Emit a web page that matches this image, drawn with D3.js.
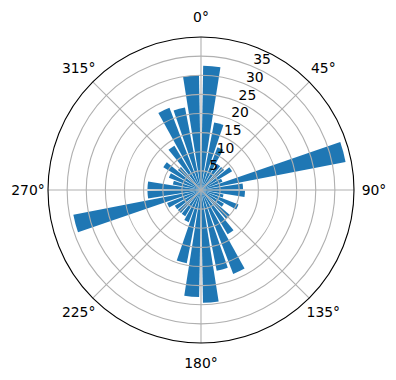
<!DOCTYPE html>
<head>
  <meta charset="utf-8">
  <script src="https://d3js.org/d3.v7.min.js"></script>
  <style>
    body { margin:0; background:#fff; }
    text { font-family: "DejaVu Sans", sans-serif; font-size: 13.9px; fill: #000; }
  </style>
</head>
<body>
  <svg id="chart" width="396" height="380"></svg>
  <script>
    // bar centres (degrees, clockwise from north) and lengths
    var angles = d3.range(5, 360, 10);
    var values = [32.5, 18, 12, 8, 8, 9.5, 6, 38.5, 11,
                  11.5, 6, 10.5, 7, 10, 13.5, 23.5, 21.5, 29.5,
                  28, 19.5, 9, 8, 8, 8, 9.5, 34, 14,
                  14, 7.5, 9, 11.5, 8, 13.5, 23, 22, 30];
    var rTicks = [5, 10, 15, 20, 25, 30, 35];
    var thetaTicks = [0, 45, 90, 135, 180, 225, 270, 315];
    var barWidth = 8;

    var cx = 201, cy = 190, R = 153;
    var svg = d3.select("#chart");
    var g = svg.append("g").attr("transform", "translate(" + cx + "," + cy + ")");

    var r = d3.scaleLinear().domain([0, 40]).range([0, R]);
    var rad = d3.scaleLinear().domain([0, 360]).range([0, 2 * Math.PI]);

    var arc = d3.arc()
      .innerRadius(0)
      .outerRadius(function(d) { return r(d.v); })
      .startAngle(function(d) { return rad(d.a - barWidth / 2); })
      .endAngle(function(d) { return rad(d.a + barWidth / 2); });

    var bars = angles.map(function(a, i) { return {a: a, v: values[i]}; });

    g.selectAll("path.bar").data(bars).enter()
      .append("path")
      .attr("class", "bar")
      .attr("d", arc)
      .attr("fill", "#1f77b4");

    // grid on top of bars, like matplotlib
    g.selectAll("circle.grid").data(rTicks).enter()
      .append("circle")
      .attr("r", function(d) { return r(d); })
      .attr("fill", "none")
      .attr("stroke", "#b0b0b0")
      .attr("stroke-width", 1.1);

    g.selectAll("line.spoke").data(thetaTicks).enter()
      .append("line")
      .attr("x1", 0).attr("y1", 0)
      .attr("x2", function(d) { return R * Math.sin(rad(d)); })
      .attr("y2", function(d) { return -R * Math.cos(rad(d)); })
      .attr("stroke", "#b0b0b0")
      .attr("stroke-width", 1.1);

    g.append("circle")
      .attr("r", R)
      .attr("fill", "none")
      .attr("stroke", "#000")
      .attr("stroke-width", 1.1);

    // angle labels
    g.selectAll("text.theta").data(thetaTicks).enter()
      .append("text")
      .attr("x", function(d) { return 173 * Math.sin(rad(d)); })
      .attr("y", function(d) { return -173 * Math.cos(rad(d)); })
      .attr("text-anchor", "middle")
      .attr("dominant-baseline", "central")
      .text(function(d) { return d + "°"; });

    // radial labels at 22.5 deg
    var la = rad(22.5);
    g.selectAll("text.rlab").data(rTicks).enter()
      .append("text")
      .attr("x", function(d) { return r(d) * Math.sin(la) + 1; })
      .attr("y", function(d) { return -r(d) * Math.cos(la) - 2; })
      .text(function(d) { return d; });
  </script>
</body>
